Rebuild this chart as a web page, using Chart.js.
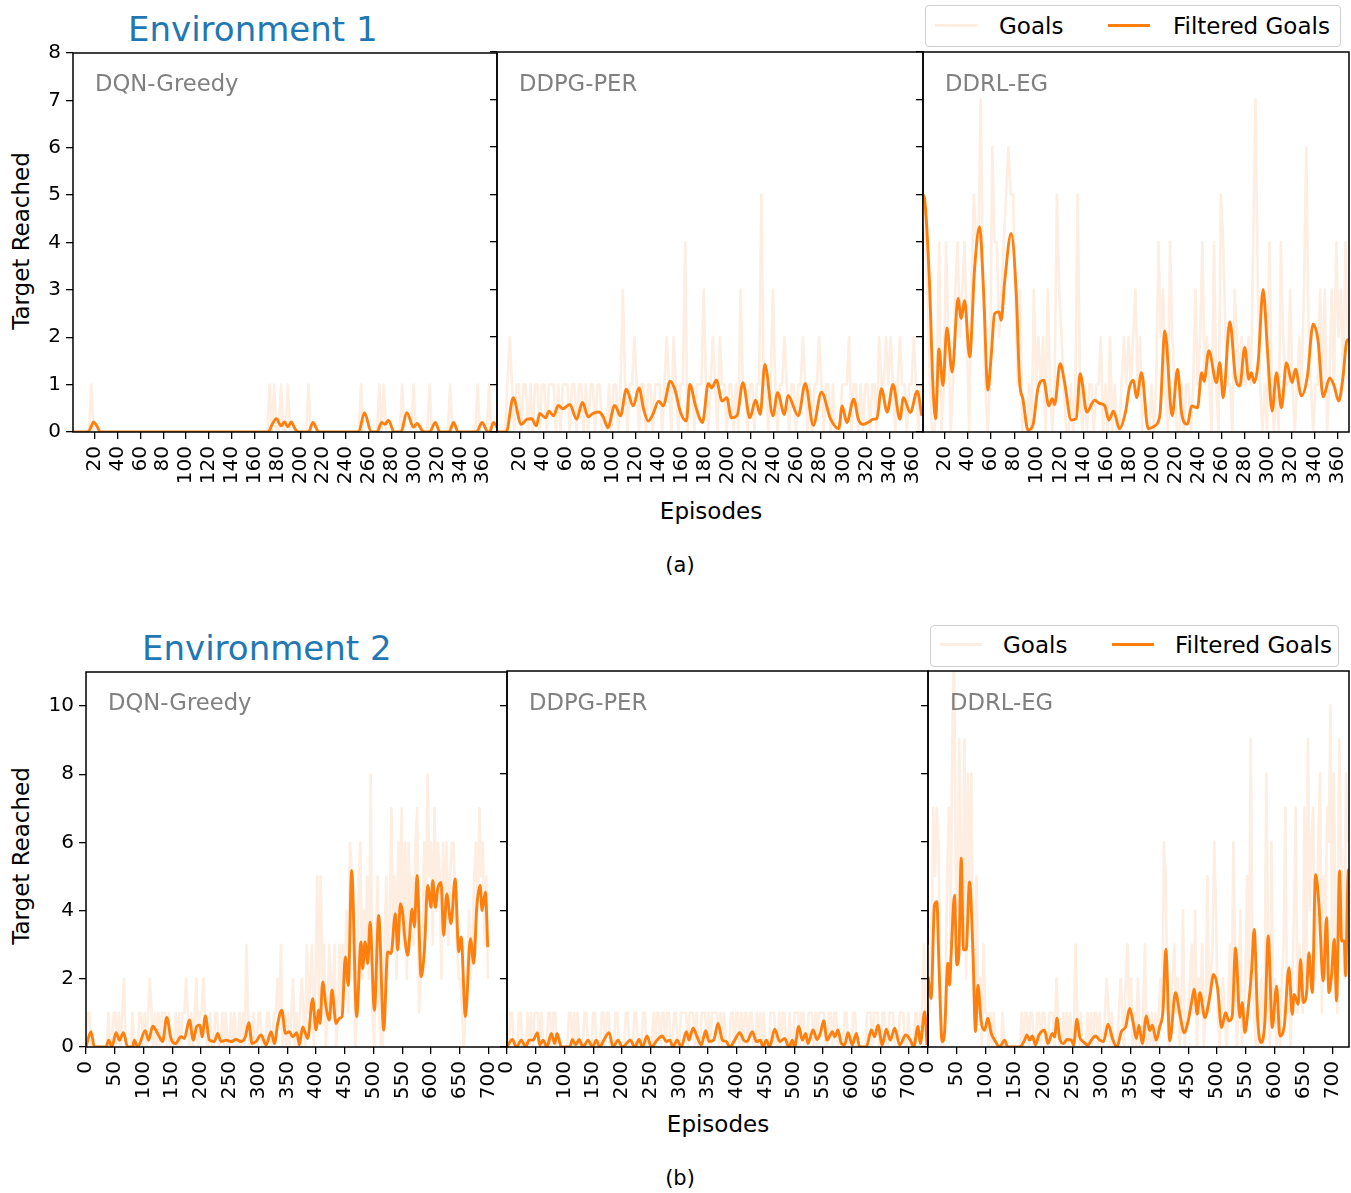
<!DOCTYPE html>
<html>
<head>
<meta charset="utf-8">
<title>Target reached per episode</title>
<script src="https://cdn.jsdelivr.net/npm/chart.js@4.4.0/dist/chart.umd.min.js"></script>
<style>
  body { margin: 0; background: #fff; }
  #figure { position: relative; width: 1351px; height: 1193px; overflow: hidden; font-family: 'DejaVu Sans', sans-serif; }
  #figure canvas { position: absolute; }
  .txt { position: absolute; white-space: nowrap; line-height: 1; color: #000; }
  .mid { transform: translate(-50%, -50%); }
  .left { transform: translateY(-50%); }
  .vert { transform: translate(-50%, -50%) rotate(-90deg); }
  .env { font-size: 34px; color: #1f77b4; }
  .axis-title { font-size: 23px; }
  .caption { font-size: 21px; }
  .algo { font-size: 22.7px; color: #808080; }
  .legend { position: absolute; border: 1px solid #cfcfcf; border-radius: 4px; background: #fff; }
  .swatch { position: absolute; height: 3px; width: 42px; }
  .legend-txt { font-size: 23px; }
</style>
</head>
<body>
<div id="figure">
  <div class="txt env left" style="left:128px;top:29px;">Environment 1</div>
  <div class="txt env left" style="left:142px;top:648px;">Environment 2</div>

  <div class="legend" style="left:925px;top:5px;width:414px;height:40px;"></div>
  <div class="swatch" style="left:935px;top:24px;background:#fdeee1;"></div>
  <div class="txt legend-txt left" style="left:999px;top:26px;">Goals</div>
  <div class="swatch" style="left:1108px;top:24px;background:#ff7f0e;"></div>
  <div class="txt legend-txt left" style="left:1173px;top:26px;">Filtered Goals</div>

  <div class="legend" style="left:930px;top:625px;width:407px;height:40px;"></div>
  <div class="swatch" style="left:940px;top:643px;background:#fdeee1;"></div>
  <div class="txt legend-txt left" style="left:1003px;top:645px;">Goals</div>
  <div class="swatch" style="left:1112px;top:643px;background:#ff7f0e;"></div>
  <div class="txt legend-txt left" style="left:1175px;top:645px;">Filtered Goals</div>

  <div class="txt axis-title vert" style="left:21px;top:241px;">Target Reached</div>
  <div class="txt axis-title vert" style="left:21px;top:856px;">Target Reached</div>
  <div class="txt axis-title mid" style="left:711px;top:511px;">Episodes</div>
  <div class="txt axis-title mid" style="left:718px;top:1124px;">Episodes</div>
  <div class="txt caption mid" style="left:680px;top:565px;">(a)</div>
  <div class="txt caption mid" style="left:680px;top:1178px;">(b)</div>
</div>

<script>
// ---- axis ticks ----
const env1XTicks = [20, 40, 60, 80, 100, 120, 140, 160, 180, 200, 220, 240, 260, 280, 300, 320, 340, 360];
const env2XTicks = [0, 50, 100, 150, 200, 250, 300, 350, 400, 450, 500, 550, 600, 650, 700];
const env1YTicks = [0, 1, 2, 3, 4, 5, 6, 7, 8];
const env2YTicks = [0, 2, 4, 6, 8, 10];

const algoNames = ['DQN-Greedy', 'DDPG-PER', 'DDRL-EG'];

// ---- environment 1: goals per episode (one value every 2 episodes, from episode 1) ----
const env1DqnGoals = [
  0,0,0,0,0,0,0,0,1,0, 0,0,0,0,0,0,0,0,0,0,
  0,0,0,0,0,0,0,0,0,0, 0,0,0,0,0,0,0,0,0,0,
  0,0,0,0,0,0,0,0,0,0, 0,0,0,0,0,0,0,0,0,0,
  0,0,0,0,0,0,0,0,0,0, 0,0,0,0,0,0,0,0,0,0,
  0,0,0,0,0,0,1,0,1,0, 0,1,0,0,1,0,0,0,0,0,
  0,0,0,1,0,0,0,0,0,0, 0,0,0,0,0,0,0,0,0,0,
  0,0,0,0,0,0,1,0,0,0, 0,0,0,0,1,0,1,0,0,0,
  0,0,0,0,1,0,0,0,0,1, 0,0,0,0,0,0,1,0,0,0,
  0,0,0,0,0,1,0,0,0,0, 0,0,0,0,0,0,0,1,0,0,
  0,0,1,0,0
];
const env1DdpgGoals = [
  0,0,0,0,1,2,1,0,1,1, 0,1,1,0,1,0,1,1,0,1,
  1,0,1,1,1,0,1,0,1,1, 1,0,1,1,0,1,1,0,1,0,
  1,1,0,1,1,0,0,0,1,0, 1,1,0,1,3,1,0,1,1,2,
  1,0,1,1,0,1,1,0,1,1, 1,0,1,2,1,0,2,1,0,1,
  1,4,0,1,1,0,1,1,1,3, 1,0,1,2,1,0,2,1,1,0,
  1,1,0,1,0,3,1,1,0,1, 1,0,1,1,5,1,1,0,1,3,
  1,0,1,1,2,1,0,1,1,0, 1,1,2,1,0,1,0,1,1,2,
  1,0,1,1,0,1,0,0,0,1, 1,1,2,0,1,1,0,1,0,1,
  1,0,1,1,0,2,1,1,2,1, 2,1,0,1,2,1,1,0,1,1,
  2,1,0,1,1
];
const env1DdrlGoals = [
  5,4,3,1,0,0,1,4,0,1, 4,2,0,1,3,4,2,3,4,2,
  0,3,5,4,4,7,3,1,0,1, 6,4,4,2,3,4,5,6,5,5,
  3,1,3,0,0,0,1,0,3,1, 2,1,2,0,3,1,0,1,5,3,
  2,1,0,0,1,0,1,5,1,0, 1,0,1,1,0,1,1,2,0,1,
  0,2,0,1,0,0,1,2,1,2, 1,2,3,1,2,0,0,0,0,1,
  0,1,4,2,3,1,0,4,2,1, 0,0,1,0,1,1,0,1,3,1,
  2,4,1,2,1,0,4,1,0,5, 4,2,1,1,0,3,2,1,2,1,
  1,2,1,4,7,3,1,0,1,0, 4,1,0,1,0,4,2,1,1,3,
  1,0,1,2,1,3,6,2,1,0, 1,1,3,1,3,0,1,3,1,4,
  2,3,1,4,2
];

// ---- environment 1: filtered goals, [episode, value] ----
const env1DqnFiltered = [
  [1,0],[14,0],[17,0.12],[19,0.21],[22,0.12],[25,0],[172,0],[175,0.15],[179,0.28],[183,0.13],
  [186,0.21],[189,0.11],[192,0.21],[195,0.08],[198,0],[207,0],[211,0.2],[216,0],[251,0],[256,0.41],
  [262,0],[267,0],[271,0.2],[274,0.16],[277,0.25],[282,0],[288,0],[293,0.41],[299,0.1],[302,0.18],
  [308,0],[313,0],[318,0.2],[322,0],[330,0],[334,0.2],[338,0],[354,0],[359,0.2],[364,0],
  [366,0.02],[369,0.2],[372,0.1]
];
const env1DdpgFiltered = [
  [0,0],[8,0],[14,0.72],[21,0.16],[26,0.27],[30,0.28],[34,0.13],[37,0.39],[42,0.3],[45,0.44],
  [49,0.34],[53,0.56],[57,0.49],[63,0.58],[69,0.27],[74,0.62],[79,0.32],[83,0.39],[88,0.42],[92,0.32],
  [96,0.09],[102,0.56],[107,0.34],[112,0.9],[118,0.55],[123,0.93],[127,0.48],[131,0.23],[135,0.37],[140,0.65],
  [144,0.55],[150,1.07],[154,0.9],[159,0.41],[164,0.23],[167,1.0],[172,0.55],[178,0.2],[183,1.02],[186,0.93],
  [190,1.09],[195,0.65],[199,0.72],[203,0.3],[208,0.35],[213,1.04],[219,0.3],[224,0.67],[228,0.37],[232,1.42],
  [239,0.34],[243,0.83],[249,0.37],[252,0.77],[261,0.34],[267,1.02],[274,0.14],[281,0.84],[289,0.27],[296,0.07],
  [299,0.55],[303,0.2],[309,0.69],[313,0.27],[317,0.16],[322,0.21],[326,0.27],[329,0.28],[333,0.91],[338,0.42],
  [343,1.0],[349,0.27],[352,0.72],[358,0.41],[364,0.86],[368,0.34]
];
const env1DdrlFiltered = [
  [1,5.0],[2.4,4.9],[6.7,3.09],[9.6,0.98],[12,0.28],[14.8,1.75],[18.3,0.98],[21.7,2.19],[26.3,1.26],[31.3,2.81],
  [34.1,2.39],[37,2.77],[41.4,1.58],[45.7,3.44],[50,4.32],[53.5,2.95],[57.2,0.88],[60.1,1.61],[63,2.49],[66.8,2.53],
  [68.7,2.35],[71.7,3.16],[77.4,4.18],[81.7,2.95],[84.7,1.05],[87.5,0.7],[91.9,0.04],[96.2,0.14],[100.5,0.91],[105.5,1.09],
  [110,0.55],[112.9,0.7],[115,0.58],[119.8,1.44],[123.6,1.05],[129.4,0.25],[133.7,0.28],[137.1,1.23],[142.9,0.42],[149.6,0.67],
  [153.9,0.6],[158.3,0.56],[162,0.25],[166,0.44],[171.2,0.07],[176.4,0.42],[179.9,0.95],[183.3,1.09],[186,0.72],[190.3,1.25],
  [196,0.07],[201.8,0.13],[206.1,0.34],[210.5,2.13],[216.8,0.34],[221.5,1.32],[224.9,0.41],[230.1,0.16],[233.6,0.55],[238.8,0.51],
  [242.3,1.25],[244.5,1.07],[248.6,1.71],[255.2,1.04],[258.1,1.46],[261,0.72],[266.8,2.32],[271.7,1.14],[275.4,0.97],[279.7,1.78],
  [283.2,1.11],[285.5,1.25],[287.8,1.04],[291.3,1.46],[295.6,3.0],[299.4,1.71],[303.4,0.44],[307.2,1.25],[311.5,0.51],[315.8,1.46],
  [320.7,1.04],[323.6,1.32],[328.8,0.76],[334,1.18],[338.9,2.27],[343.2,1.92],[347.6,0.74],[353.3,1.14],[357.1,0.97],[361.1,0.65],
  [364.9,1.18],[368.1,1.92],[370,1.95]
];

// ---- environment 2: goals per episode (one value every 3 episodes, from episode 0) ----
const env2DqnGoals = [
  0,1,1,0,0,0,0,0,0,0, 0,0,0,1,0,0,1,1,0,1,
  0,1,2,0,0,0,0,1,0,0, 0,1,1,0,1,0,1,2,1,0,
  1,0,1,0,1,1,1,0,1,0, 0,0,1,0,1,0,1,1,2,1,
  0,1,0,1,2,0,1,1,2,1, 0,0,1,0,0,1,1,0,0,1,
  0,1,0,0,1,0,1,0,0,1, 0,1,0,3,1,0,0,1,0,0,
  1,1,0,0,0,1,1,0,0,1, 1,2,1,3,0,1,0,1,0,1,
  2,0,1,0,1,2,1,0,3,1, 2,3,0,2,5,1,5,2,3,0,
  1,3,2,1,3,0,1,3,1,3, 2,4,1,6,5,3,0,1,5,6,
  2,4,3,5,2,8,1,0,3,5, 1,0,0,3,5,2,4,7,3,5,
  2,6,4,7,3,6,2,6,4,5, 3,6,7,1,2,3,6,4,8,5,
  6,3,7,4,6,5,2,6,4,6, 3,5,6,6,4,3,2,2,1,0,
  1,2,4,2,3,5,6,4,7,5, 6,3,5,2
];
const env2DdpgGoals = [
  0,0,1,1,0,0,0,1,1,0, 0,0,1,0,1,0,1,1,1,0,
  1,0,0,0,1,1,0,1,1,0, 0,0,0,0,0,0,1,1,0,1,
  0,1,0,0,0,1,1,0,0,0, 1,1,0,0,0,1,1,0,1,1,
  0,0,0,1,1,0,0,0,0,1, 1,0,0,0,1,1,0,0,0,1,
  1,0,0,0,0,1,0,1,1,0, 1,1,0,1,1,0,0,1,1,0,
  0,1,1,1,1,0,1,1,1,0, 1,0,0,1,1,1,0,1,0,1,
  1,1,1,0,1,0,1,0,0,0, 1,1,0,1,1,0,1,0,1,1,
  0,1,1,0,0,1,0,1,0,1, 0,0,0,1,1,1,0,0,1,0,
  1,1,0,0,1,0,0,1,1,1, 0,1,1,0,0,1,1,1,0,1,
  0,1,1,1,1,0,0,1,1,0, 1,1,0,0,0,0,1,1,0,0,
  0,1,1,0,0,0,0,0,0,1, 1,1,0,1,1,1,0,0,1,1,
  0,0,1,1,1,0,0,0,1,1, 1,0,0,1,0,0,0,1,1,0,
  1,1,3,1
];
const env2DdrlGoals = [
  3,1,3,7,5,7,6,2,0,0, 1,5,7,3,9,12,5,4,9,6,
  3,9,2,8,4,8,2,1,5,1, 2,0,3,1,1,0,1,0,1,0,
  0,0,0,1,0,0,0,0,0,0, 0,0,0,0,1,0,1,1,0,1,
  1,0,0,1,1,0,1,1,0,0, 1,1,1,0,2,1,0,0,1,0,
  1,0,1,0,0,3,1,0,1,0, 0,0,1,0,1,0,1,1,0,1,
  0,0,1,2,1,0,1,0,0,0, 1,2,1,0,2,3,1,2,0,1,
  0,2,0,0,1,3,0,1,0,1, 0,1,0,1,2,1,6,5,1,0,
  1,2,3,1,2,0,1,4,0,1, 1,2,3,1,4,0,2,1,3,0,
  1,5,1,2,3,6,4,1,0,1, 2,1,0,1,3,1,6,3,0,1,
  4,0,1,2,5,2,9,3,1,0, 0,1,2,0,1,8,3,0,6,1,
  2,0,1,0,2,3,7,1,2,0, 2,4,7,1,3,2,1,7,2,9,
  4,6,7,2,3,6,8,1,5,2, 7,6,10,2,8,3,1,9,6,4,
  2,8,6,7
];

// ---- environment 2: filtered goals, [episode, value] ----
const env2DqnFiltered = [
  [0,0],[8.7,0.45],[14.5,0],[34.8,0],[39.4,0.2],[45.2,0],[52.2,0.42],[58,0.2],[65,0.42],[72.5,0],
  [81,0],[84,0.2],[89.8,0],[103.1,0.48],[108.9,0.2],[115.9,0.61],[122.9,0.45],[127.5,0.3],[133.3,0.16],[140.3,0.87],
  [147.8,0.25],[155.4,0.1],[165.2,0.3],[171,0.25],[179.7,0.79],[186.7,0.2],[192.5,0.61],[198.3,0.64],[201.8,0.3],[207.5,0.91],
  [214.5,0.2],[223.2,0.16],[229,0.4],[234.8,0.16],[243.5,0.2],[252.2,0.16],[260.9,0.22],[269.6,0.16],[277.1,0.3],[282.9,0.71],
  [288.7,0.1],[295.7,0.16],[304.4,0.35],[313.1,0.06],[321.8,0.45],[327.6,0.1],[333.4,0.69],[340.4,1.08],[346.7,0.4],[353.6,0.45],
  [359.4,0.3],[366.4,0.42],[371,0.06],[376.7,0.59],[385.4,0.25],[394.1,1.42],[399.9,0.5],[404.5,1.08],[406.9,0.69],[411.5,1.91],
  [417.3,1.18],[423.1,0.79],[427.7,1.67],[434.7,0.69],[440.5,0.84],[445.2,0.89],[450.9,2.64],[456.1,1.81],[461.9,5.18],[470.6,0.89],
  [478.2,3.08],[481.1,2.3],[485.2,3.08],[489.8,2.45],[493.9,3.66],[501.4,1.08],[508.9,3.86],[517.6,0.5],[524.5,2.79],[530.3,2.74],
  [537.9,3.91],[542,2.84],[546.6,4.2],[550.7,3.91],[553.6,3.32],[559.4,2.69],[566.9,4.05],[571,3.52],[575.6,5.03],[582.6,2.06],
  [588.4,2.84],[594.1,4.74],[599.9,4.1],[602.8,4.88],[607.5,4.1],[611.5,4.64],[617.3,4.83],[621.9,3.27],[627.2,4.49],[634.7,3.62],
  [641.7,4.93],[648.1,2.79],[652.2,3.23],[659.7,0.89],[668.3,3.18],[674.2,2.45],[679.4,4.1],[685.2,4.74],[688.7,4.0],[694.4,4.54],
  [698.5,2.93]
];
const env2DdpgFiltered = [
  [0,0],[9.3,0.22],[16.3,0],[25,0.2],[32.5,0],[38.3,0.2],[45.3,0.2],[52.9,0.42],[57,0.06],[62.8,0.2],
  [69.7,0],[77.2,0.4],[83,0.1],[87.1,0.4],[94.6,0],[109.2,0],[113.8,0.22],[119.6,0.06],[125.4,0.22],[132.4,0],
  [141.1,0.2],[148.6,0],[155.6,0.2],[161.4,0],[168.4,0.2],[177.7,0.42],[184.6,0],[193.3,0.2],[200.9,0],[214.8,0.2],
  [222.3,0],[229.9,0.22],[235.7,0],[243.8,0.32],[251.4,0],[261.2,0.2],[270.5,0.32],[277.5,0.16],[283.3,0.2],[289.1,0],
  [296,0.2],[303.6,0],[312.3,0.45],[316.9,0.2],[323.9,0.55],[330.9,0.3],[338.4,0.06],[345.9,0.48],[351.7,0.16],[359.9,0.2],
  [367.4,0.69],[375,0.2],[381.9,0.16],[387.7,0],[396.4,0.2],[405.1,0.42],[412.1,0.2],[417.9,0.16],[427.2,0.45],[434.2,0.16],
  [441.1,0.2],[445.7,0],[451.5,0.2],[457.3,0],[466,0.52],[474.8,0.16],[483.5,0.25],[491,0],[496.8,0.2],[500.9,0],
  [507.9,0.6],[514.2,0.2],[520,0.4],[524.1,0.1],[532.8,0.5],[539.8,0.22],[545.6,0.4],[551.4,0.77],[557.2,0.2],[566.5,0.45],
  [570.5,0.3],[576.3,0.5],[582.1,0.1],[587.9,0.06],[593.7,0.42],[601.3,0.06],[608.2,0.4],[614,0],[625.6,0],[634.3,0.5],
  [640.1,0.3],[645.9,0.64],[653.5,0.06],[660.4,0.52],[667.4,0.2],[675,0.55],[683.7,0.06],[694.1,0.35],[702.3,0.2],[708.1,0],
  [715.6,0.6],[719.7,0.1],[727.2,1.03],[731.3,0.06]
];
const env2DdrlFiltered = [
  [0,2.06],[5.4,1.42],[11.2,4.15],[15.3,4.25],[18.7,2.54],[24.5,0.16],[28.5,0.4],[34.3,2.45],[37.2,1.81],[40.1,2.74],
  [45.8,4.44],[49.9,2.4],[53.3,2.69],[57.4,5.52],[61.4,2.84],[66,2.84],[71.8,4.83],[77.6,2.84],[82.2,0.45],[86.2,1.81],
  [92,0.74],[97.8,0.49],[103.5,0.84],[109.3,0.4],[116.8,0.16],[123.7,0],[132.4,0.2],[138.1,0],[158.3,0],[167,0.2],
  [171,0.35],[175.6,0.2],[180.2,0.32],[186,0.06],[191.8,0.35],[201.6,0.49],[207.4,0.1],[214.9,0.4],[218.9,0.3],[223,0.84],
  [227.6,0.25],[234.5,0.1],[240.3,0.22],[247.8,0.2],[251.8,0.06],[257.6,0.81],[262.2,0.3],[268,0.16],[276.6,0.06],[282.4,0.2],
  [289.9,0.32],[296.8,0.2],[303.7,0.16],[311.2,0.67],[319.9,0.2],[326.8,0],[334.3,0.45],[341.8,0.59],[348.7,1.13],[354.5,0.74],
  [360.2,0.25],[364.8,0.64],[370.6,0.1],[377.5,0.91],[383.3,0.48],[387.9,0.64],[394.8,0.2],[400.6,0.59],[406.4,1.08],[411.2,2.86],
  [418.1,0.18],[428,1.59],[435.5,0.96],[443,0.42],[449.9,0.76],[455.7,1.3],[460.3,1.69],[465.5,0.96],[470.1,1.59],[478.8,0.86],
  [487.4,1.49],[493.8,2.12],[500.7,1.73],[507.6,0.57],[514.5,1.0],[520.3,0.76],[526.1,0.91],[531.8,2.9],[539.3,0.86],[543.4,1.3],
  [548,0.42],[553.8,1.15],[559.5,2.22],[564.1,3.44],[569.9,0.86],[575.7,0.13],[582.6,0.76],[588.3,3.25],[595.3,0.57],[602.8,1.78],
  [608.5,0.32],[616,0.61],[624.1,2.32],[629.8,0.96],[633.3,1.54],[640.2,1.25],[644.2,2.56],[648.9,1.3],[654.7,1.59],[658.7,2.76],
  [664.5,1.59],[670.2,5.05],[676,4.17],[683.5,1.93],[689.2,3.78],[693.3,1.59],[697.9,2.12],[702.5,3.15],[706.5,1.35],[711.7,5.15],
  [715.2,3.1],[719.8,3.1],[722.1,2.08],[726.7,5.15],[728,5.2]
];

const GOALS_COLOR = '#fdeee1';
const FILTERED_COLOR = '#ff7f0e';
const FONT = "'DejaVu Sans', sans-serif";

// room around each plot area for the tick marks and labels
const PAD_L = 70, PAD_R = 24, PAD_T = 16, PAD_B = 70;

const panels = [
  { left: 73,  top: 52,  w: 424, h: 380, xMin: 1, xMax: 372, xTicks: env1XTicks, yMax: 8,  yTicks: env1YTicks, yLabels: true,
    goals: env1DqnGoals,  start: 1, step: 2, filtered: env1DqnFiltered,  name: algoNames[0] },
  { left: 497, top: 52,  w: 426, h: 380, xMin: 0, xMax: 369, xTicks: env1XTicks, yMax: 8,  yTicks: env1YTicks, yLabels: false,
    goals: env1DdpgGoals, start: 1, step: 2, filtered: env1DdpgFiltered, name: algoNames[1] },
  { left: 923, top: 52,  w: 426, h: 380, xMin: 1, xMax: 370, xTicks: env1XTicks, yMax: 8,  yTicks: env1YTicks, yLabels: false,
    goals: env1DdrlGoals, start: 1, step: 2, filtered: env1DdrlFiltered, name: algoNames[2] },
  { left: 86,  top: 671, w: 421, h: 376, xMin: 0, xMax: 732, xTicks: env2XTicks, yMax: 11, yTicks: env2YTicks, yLabels: true,
    goals: env2DqnGoals,  start: 0, step: 3, filtered: env2DqnFiltered,  name: algoNames[0] },
  { left: 507, top: 671, w: 421, h: 376, xMin: 0, xMax: 733, xTicks: env2XTicks, yMax: 11, yTicks: env2YTicks, yLabels: false,
    goals: env2DdpgGoals, start: 0, step: 3, filtered: env2DdpgFiltered, name: algoNames[1] },
  { left: 928, top: 671, w: 421, h: 376, xMin: 0, xMax: 728, xTicks: env2XTicks, yMax: 11, yTicks: env2YTicks, yLabels: false,
    goals: env2DdrlGoals, start: 0, step: 3, filtered: env2DdrlFiltered, name: algoNames[2] }
];

// black box around the plot area, drawn over the lines
const framePlugin = {
  id: 'frame',
  afterDatasetsDraw(chart) {
    const { ctx, chartArea: a } = chart;
    ctx.save();
    ctx.strokeStyle = '#000';
    ctx.lineWidth = 1.5;
    ctx.strokeRect(a.left, a.top, a.right - a.left, a.bottom - a.top);
    ctx.restore();
  }
};

function tickAxis(extra) {
  return Object.assign({
    grid: { display: true, drawOnChartArea: false, drawTicks: true, tickLength: 7, color: '#000', lineWidth: 1.3 },
    border: { display: false }
  }, extra);
}

function drawPanel(p) {
  const fig = document.getElementById('figure');
  const canvas = document.createElement('canvas');
  const cw = p.w + PAD_L + PAD_R;
  const ch = p.h + PAD_T + PAD_B;
  canvas.width = cw;
  canvas.height = ch;
  canvas.style.left = (p.left - PAD_L) + 'px';
  canvas.style.top = (p.top - PAD_T) + 'px';
  canvas.style.width = cw + 'px';
  canvas.style.height = ch + 'px';
  fig.appendChild(canvas);

  const label = document.createElement('div');
  label.className = 'txt algo left';
  label.style.left = (p.left + 22) + 'px';
  label.style.top = (p.top + 31) + 'px';
  label.textContent = p.name;
  fig.appendChild(label);

  const goalPoints = p.goals.map((v, i) => ({ x: p.start + i * p.step, y: v }));
  const filteredPoints = p.filtered.map(([x, y]) => ({ x, y }));

  new Chart(canvas, {
    type: 'line',
    data: {
      datasets: [
        { label: 'Goals', data: goalPoints, borderColor: GOALS_COLOR, borderWidth: 2.6,
          pointRadius: 0, borderJoinStyle: 'round', tension: 0, order: 2 },
        { label: 'Filtered Goals', data: filteredPoints, borderColor: FILTERED_COLOR, borderWidth: 2.9,
          pointRadius: 0, borderJoinStyle: 'round', cubicInterpolationMode: 'monotone', order: 1 }
      ]
    },
    options: {
      responsive: false,
      animation: false,
      devicePixelRatio: 1,
      layout: { padding: { top: PAD_T, right: PAD_R, left: 0, bottom: 0 } },
      plugins: { legend: { display: false }, tooltip: { enabled: false } },
      scales: {
        x: tickAxis({
          type: 'linear', min: p.xMin, max: p.xMax,
          afterBuildTicks: (axis) => { axis.ticks = p.xTicks.map(v => ({ value: v })); },
          afterFit: (axis) => { axis.height = PAD_B; },
          ticks: { autoSkip: false, minRotation: 90, maxRotation: 90, padding: 7, color: '#000',
                   font: { family: FONT, size: 20 } }
        }),
        y: tickAxis({
          type: 'linear', min: 0, max: p.yMax,
          afterBuildTicks: (axis) => { axis.ticks = p.yTicks.map(v => ({ value: v })); },
          afterFit: (axis) => { axis.width = PAD_L; },
          ticks: { display: p.yLabels, padding: 5, color: '#000', font: { family: FONT, size: 20 } }
        })
      }
    },
    plugins: [framePlugin]
  });
}

panels.forEach(drawPanel);
</script>
</body>
</html>
